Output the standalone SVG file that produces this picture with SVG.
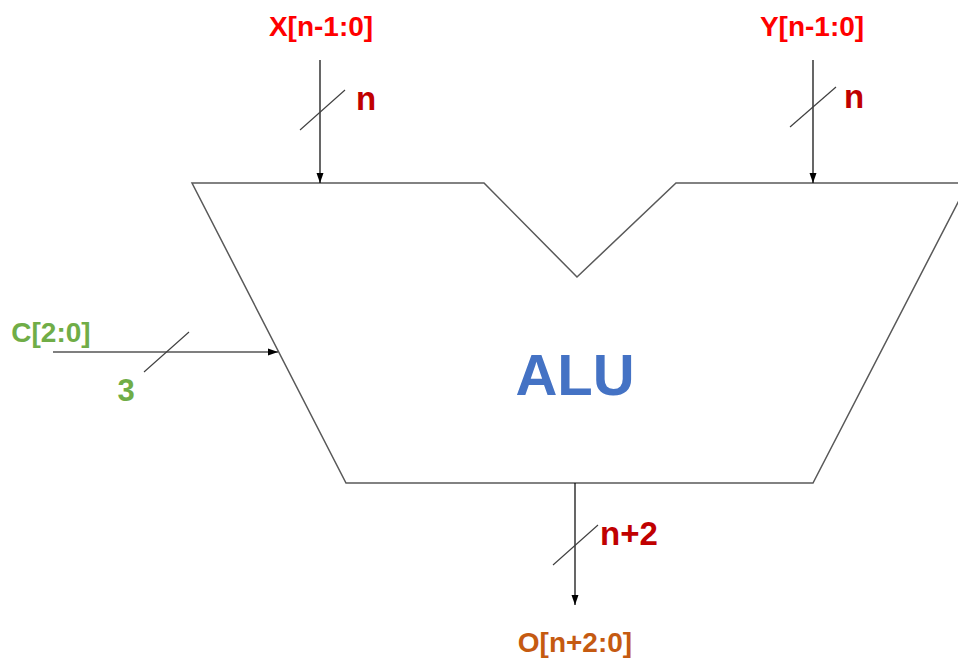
<svg xmlns="http://www.w3.org/2000/svg" width="958" height="658" viewBox="0 0 958 658">
  <style>
    .lbl { font-family: "Liberation Sans", Arial, sans-serif; font-weight: bold; }
    .sig { font-size: 28px; }
    .w { font-size: 33px; fill: #C00000; }
    .wire { stroke: #000000; stroke-width: 1.2; fill: none; }
    .slash { stroke: #404040; stroke-width: 1.2; fill: none; }
    .body { stroke: #595959; stroke-width: 1.5; fill: #FFFFFF; stroke-linejoin: miter; }
  </style>
  <defs>
    <marker id="arr" markerUnits="userSpaceOnUse" markerWidth="10" markerHeight="10" viewBox="0 0 10 10" refX="10" refY="5" orient="auto">
      <path d="M0,1.5 L10,5 L0,8.5 Z" fill="#000000"/>
    </marker>
  </defs>
  <rect width="958" height="658" fill="#FFFFFF"/>

  <g id="alu">
    <path class="body" d="M192,183 L484,183 L577,277 L676,183 L968,183 L813,483 L346,483 Z"/>
    <text class="lbl" x="575" y="395" font-size="58" fill="#4472C4" text-anchor="middle">ALU</text>
  </g>

  <g id="x-input">
    <text class="lbl sig" x="321" y="36" fill="#FF0000" text-anchor="middle">X[n-1:0]</text>
    <text class="lbl w" x="356" y="110">n</text>
  </g>

  <g id="y-input">
    <text class="lbl sig" x="812" y="36" fill="#FF0000" text-anchor="middle">Y[n-1:0]</text>
    <text class="lbl w" x="844" y="108">n</text>
  </g>

  <g id="c-input">
    <text class="lbl sig" x="51" y="342" fill="#70AD47" text-anchor="middle">C[2:0]</text>
    <text class="lbl" x="126" y="401" font-size="31" fill="#70AD47" text-anchor="middle">3</text>
  </g>

  <g id="o-output">
    <text class="lbl w" x="600" y="545">n+2</text>
    <text class="lbl sig" x="575" y="652" fill="#C55A11" text-anchor="middle">O[n+2:0]</text>
  </g>

  <g id="connectors">
    <line class="wire" x1="320" y1="60" x2="320" y2="183" marker-end="url(#arr)"/>
    <line class="slash" x1="300" y1="130" x2="345" y2="90"/>
    <line class="wire" x1="813" y1="60" x2="813" y2="183" marker-end="url(#arr)"/>
    <line class="slash" x1="790" y1="127" x2="836" y2="87"/>
    <line class="wire" x1="53" y1="352" x2="278" y2="352" marker-end="url(#arr)"/>
    <line class="slash" x1="144" y1="372" x2="189" y2="332"/>
    <line class="wire" x1="575" y1="483" x2="575" y2="605" marker-end="url(#arr)"/>
    <line class="slash" x1="553" y1="565" x2="598" y2="525"/>
  </g>
</svg>
